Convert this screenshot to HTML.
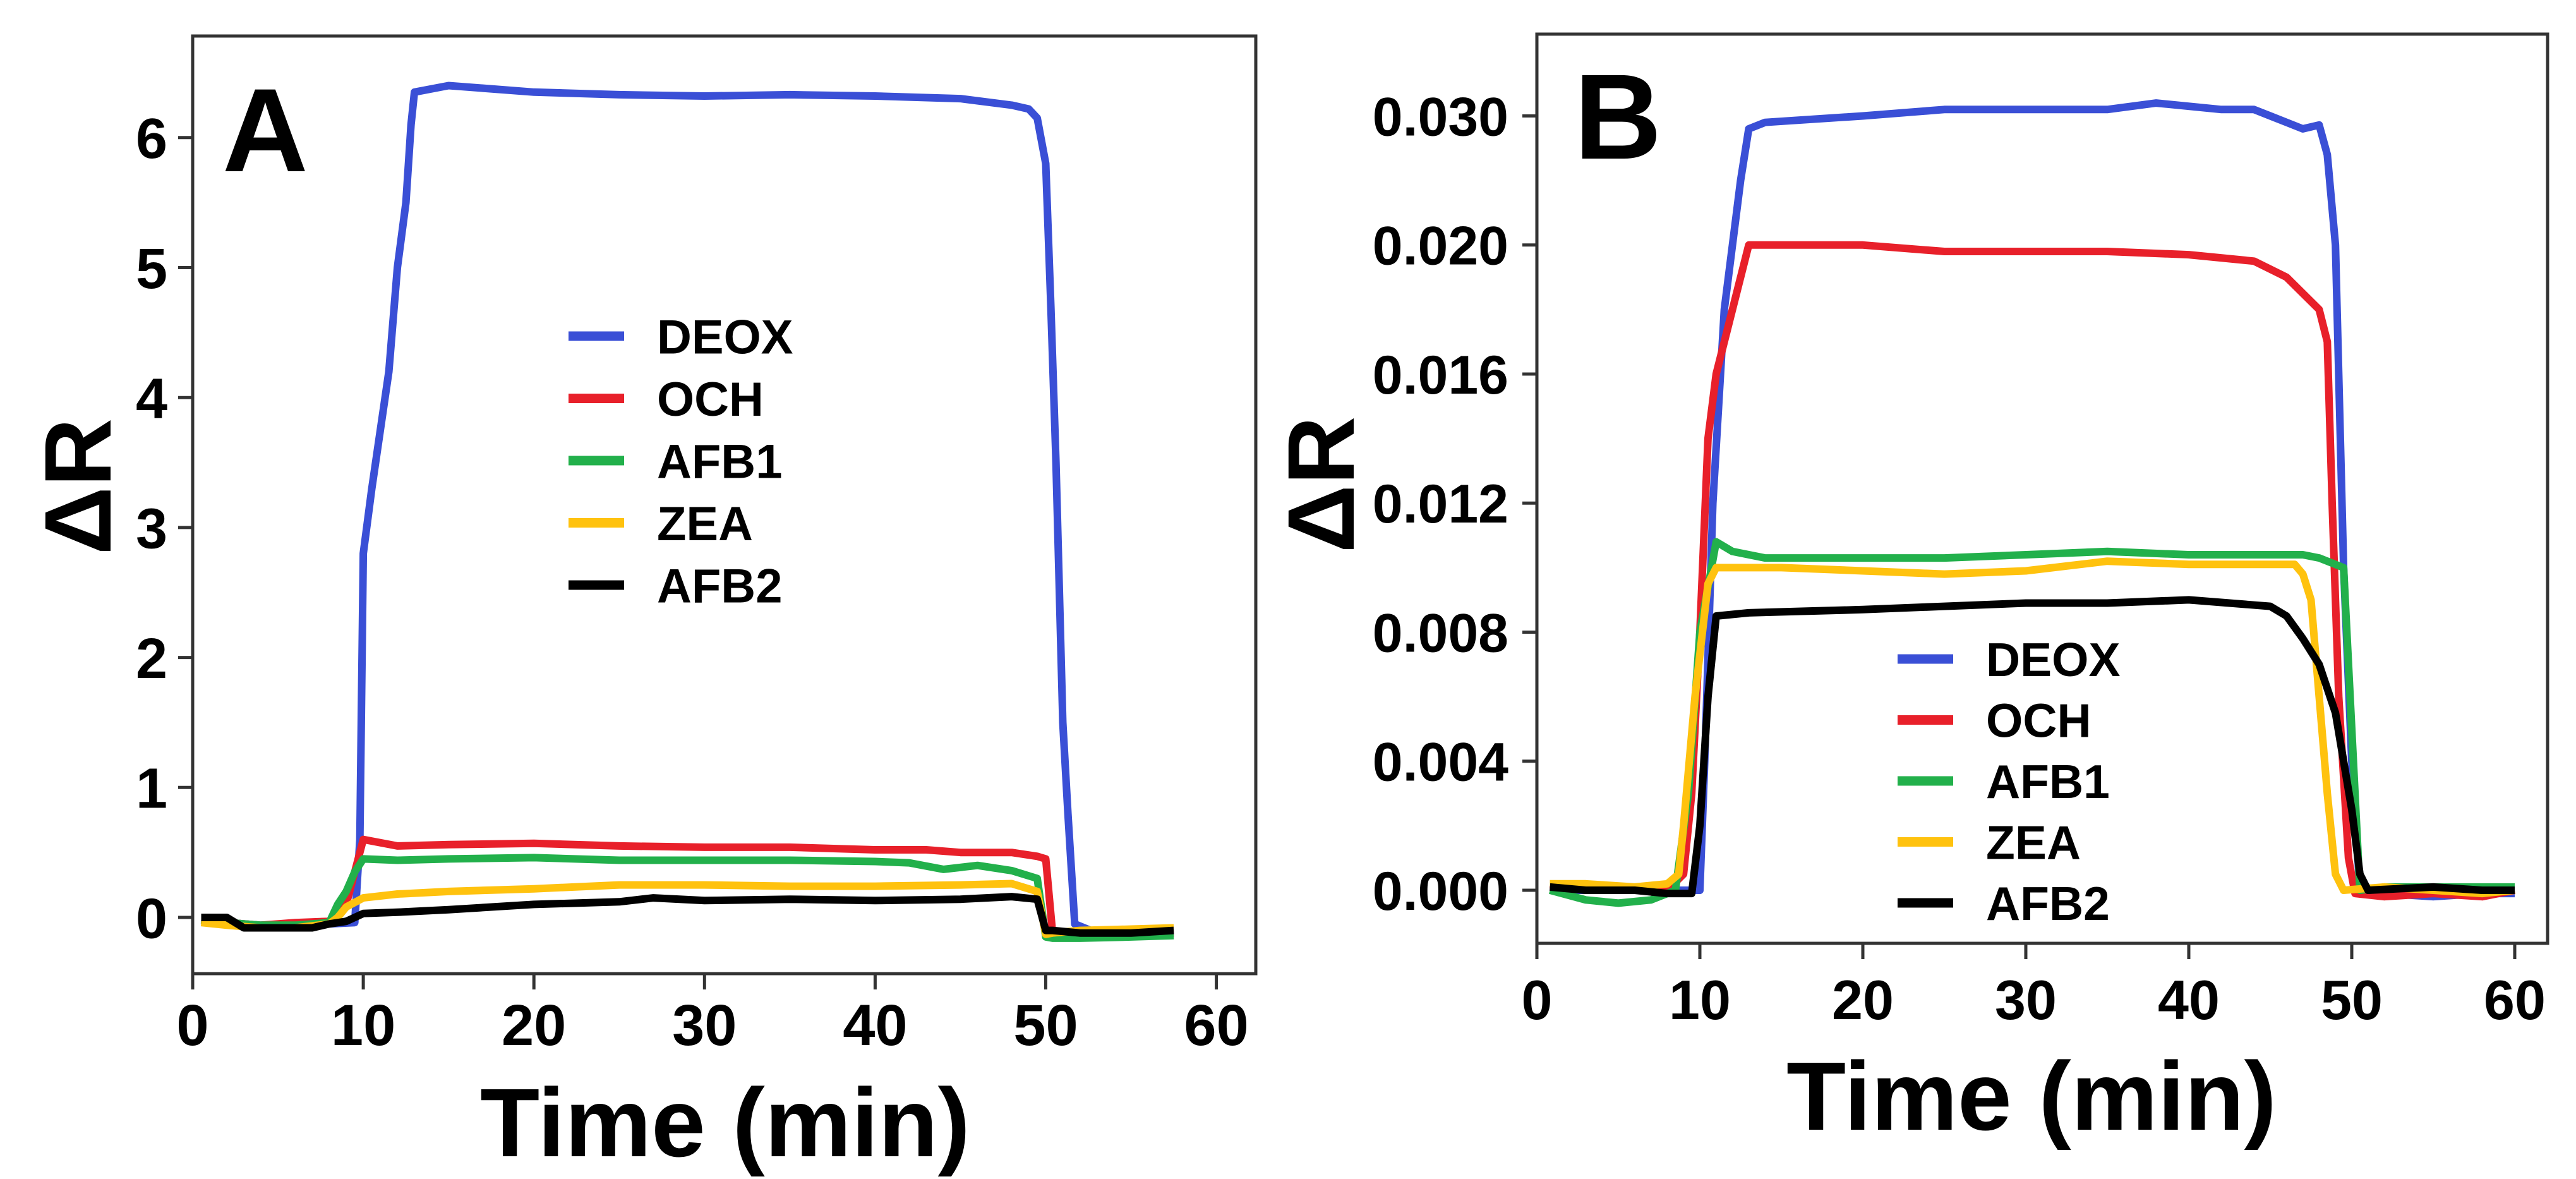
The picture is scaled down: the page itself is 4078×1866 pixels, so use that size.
<!DOCTYPE html>
<html><head><meta charset="utf-8"><style>
html,body{margin:0;padding:0;background:#fff;}
svg{display:block;font-family:"Liberation Sans",Arial,sans-serif;font-weight:bold;}
</style></head><body>
<svg id="fig" width="4078" height="1866" viewBox="0 0 4078 1866" xmlns="http://www.w3.org/2000/svg">
<g id="pa"></g>
<g id="pb"></g>
</svg>
<script>
const seriesNames = ["DEOX","OCH","AFB1","ZEA","AFB2"];
const seriesColors = ["#3a4fd6","#e8202a","#22b04b","#ffc20e","#000000"];
const xTicks = [0,10,20,30,40,50,60];
const aYTicks = [0,1,2,3,4,5,6];
const bYTicks = [0,0.004,0.008,0.012,0.016,0.020,0.030];
const bYTickLabels = ["0.000","0.004","0.008","0.012","0.016","0.020","0.030"];

// Panel A data
const aT = {
 DEOX:[0.5,2,4,6,8,9.5,9.8,10,10.5,11.5,12,12.5,12.8,13,15,20,25,30,35,40,45,48,49,49.5,50,50.3,50.6,51,51.3,51.7,53,55,57.5],
 OCH:[0.5,2,4,6,8,9,9.6,10,12,15,20,25,30,35,40,43,45,48,49.5,50,50.4,51,53,55,57.5],
 AFB1:[0.5,2,4,6,8,8.5,9,9.5,10,12,15,20,25,30,35,40,42,44,46,48,49.5,50,50.4,52,55,57.5],
 ZEA:[0.5,2,4,6,8,8.5,9,10,12,15,20,25,30,35,40,45,48,49.5,50,50.4,52,55,57.5],
 AFB2:[0.5,2,3,5,7,8,9,10,12,15,20,25,27,30,35,40,45,48,49.5,50,50.4,52,55,57.5]
};
const aV = {
 DEOX:[-0.02,-0.04,-0.06,-0.05,-0.05,-0.04,0.6,2.8,3.3,4.2,5.0,5.5,6.1,6.35,6.4,6.35,6.33,6.32,6.33,6.32,6.3,6.25,6.22,6.15,5.8,4.7,3.5,1.5,0.8,-0.05,-0.12,-0.12,-0.12],
 OCH:[-0.02,-0.04,-0.06,-0.04,-0.03,0.1,0.4,0.6,0.55,0.56,0.57,0.55,0.54,0.54,0.52,0.52,0.5,0.5,0.47,0.45,-0.12,-0.13,-0.14,-0.14,-0.12],
 AFB1:[-0.02,-0.04,-0.06,-0.06,-0.04,0.1,0.2,0.35,0.45,0.44,0.45,0.46,0.44,0.44,0.44,0.43,0.42,0.37,0.4,0.36,0.3,-0.15,-0.16,-0.16,-0.15,-0.14],
 ZEA:[-0.04,-0.06,-0.08,-0.08,-0.05,0.0,0.08,0.15,0.18,0.2,0.22,0.25,0.25,0.24,0.24,0.25,0.26,0.2,-0.13,-0.12,-0.1,-0.09,-0.08],
 AFB2:[0.0,0.0,-0.08,-0.08,-0.08,-0.05,-0.03,0.03,0.04,0.06,0.1,0.12,0.15,0.13,0.14,0.13,0.14,0.16,0.14,-0.1,-0.1,-0.12,-0.12,-0.1]
};
// Panel B data
const bT = {
 DEOX:[0.8,3,6,8,9.5,10,10.3,10.8,11.5,12,12.5,13,14,20,25,30,35,38,42,44,45,46,47,48,48.5,49,49.5,50,50.5,52,55,58,60],
 OCH:[0.8,3,6,8,9,9.5,10,10.5,11,12,13,15,20,25,30,35,40,44,46,48,48.5,48.8,49.2,49.8,50.2,52,55,58,60],
 AFB1:[0.8,3,5,7,8.5,9.3,10,11,12,14,20,25,30,35,40,45,47,48,49.5,50,50.5,52,55,58,60],
 ZEA:[0.8,3,6,8,8.7,9,9.7,10.5,11,15,20,25,30,35,40,45,46.5,47,47.5,48,48.5,49,49.5,52,55,58,60],
 AFB2:[0.8,3,6,8,9.5,10,10.5,11,13,20,25,30,35,40,45,46,47,48,49,50,50.5,51,55,58,60]
};
const bV = {
 DEOX:[0,0,0,0,0,0,0.004,0.012,0.018,0.020,0.025,0.029,0.0295,0.030,0.0305,0.0305,0.0305,0.031,0.0305,0.0305,0.030,0.0295,0.029,0.0293,0.027,0.020,0.010,0.004,0.0,-0.0001,-0.0002,-0.0001,-0.0001],
 OCH:[0,0.0001,0,0,0.0005,0.003,0.008,0.014,0.016,0.018,0.020,0.020,0.020,0.0198,0.0198,0.0198,0.0197,0.0195,0.019,0.018,0.017,0.012,0.006,0.001,-0.0001,-0.0002,-0.0001,-0.0002,0],
 AFB1:[0,-0.0003,-0.0004,-0.0003,0,0.003,0.008,0.0108,0.0105,0.0103,0.0103,0.0103,0.0104,0.0105,0.0104,0.0104,0.0104,0.0103,0.010,0.005,0.0,0.0001,0.0001,0.0001,0.0001],
 ZEA:[0.0002,0.0002,0.0001,0.0002,0.0005,0.002,0.006,0.0095,0.010,0.010,0.0099,0.0098,0.0099,0.0102,0.0101,0.0101,0.0101,0.0098,0.009,0.006,0.003,0.0005,0,0.0001,0,-0.0001,0],
 AFB2:[0.0001,0,0,-0.0001,-0.0001,0.002,0.006,0.0085,0.0086,0.0087,0.0088,0.0089,0.0089,0.009,0.0088,0.0085,0.0078,0.007,0.0055,0.0025,0.0005,0,0.0001,0,0]
};

const NS="http://www.w3.org/2000/svg";
function mk(tag,attrs,parent,text){const e=document.createElementNS(NS,tag);for(const k in attrs)e.setAttribute(k,attrs[k]);if(text!==undefined)e.textContent=text;parent.appendChild(e);return e;}

function drawPanel(g,cfg){
  const {L,R,T,B,x,y,yTicks,yLabels,yLabX,yFont,xLabY,xFont,ts,vs,letter,letterX,letterY,letterFont,
         dRX,dRY,titleX,titleY,legX,legY,legStep,legFont,lw} = cfg;
  const frame=mk('rect',{x:L,y:T,width:R-L,height:B-T,fill:'none',stroke:'#333',"stroke-width":5},g);
  
  
  xTicks.forEach(v=>{
    const t=mk('line',{x1:x(v),x2:x(v),y1:B,y2:B+25,stroke:'#333',"stroke-width":5},g);
    
    
    const lb=mk('text',{x:x(v),y:xLabY,"text-anchor":"middle","font-size":xFont},g,String(v));
    
    
  });
  yTicks.forEach((v,i)=>{
    const t=mk('line',{x1:L-23,x2:L,y1:y(v),y2:y(v),stroke:'#333',"stroke-width":5},g);
    
    
    const lb=mk('text',{x:yLabX,y:y(v)+yFont*0.36,"text-anchor":"end","font-size":yFont},g,yLabels[i]);
    
    
  });
  [0,1,2,3,4].forEach(i=>{
    const n=seriesNames[i];
    const d=ts[n].map((t,k)=>(k?'L':'M')+x(t).toFixed(1)+','+y(vs[n][k]).toFixed(1)).join('');
    const p=mk('path',{d:d,fill:'none',stroke:seriesColors[i],"stroke-width":lw,"stroke-linejoin":"round"},g);
    
    
  });
  seriesNames.forEach((n,i)=>{
    const ly=legY+i*legStep;
    const ln=mk('line',{x1:legX,x2:legX+88,y1:ly,y2:ly,stroke:seriesColors[i],"stroke-width":15},g);
    
    
    const tx=mk('text',{x:legX+140,y:ly+legFont*0.36,"font-size":legFont},g,n);
    
    
  });
  const le=mk('text',{x:letterX,y:letterY,"font-size":letterFont},g,letter);
  
  
  const yt=mk('text',{x:0,y:0,"font-size":150,"text-anchor":"middle",transform:`translate(${dRX},${dRY}) rotate(-90)`},g,'ΔR');
  
  
  const xt=mk('text',{x:titleX,y:titleY,"font-size":154,"text-anchor":"middle"},g,'Time (min)');
  
  
}

const ax = v => 305 + v*27.01;
const ay = v => 1452 - v*205.7;
drawPanel(document.getElementById('pa'),{L:305,R:1988,T:57,B:1541,x:ax,y:ay,yTicks:aYTicks,yLabels:aYTicks.map(String),
  yLabX:265,yFont:90,xLabY:1654,xFont:92,ts:aT,vs:aV,letter:'A',letterX:352,letterY:271,letterFont:188,
  dRX:175,dRY:770,titleX:1148,titleY:1830,legX:900,legY:532,legStep:98.5,legFont:76,lw:12});

const bx = v => 2433 + v*25.8;
const by = v => v<=0.020 ? 1409 - v*(204.25/0.004) : 1409 - 5*204.25 - (v-0.020)*(204.25/0.010);
drawPanel(document.getElementById('pb'),{L:2433,R:4033,T:54,B:1493,x:bx,y:by,yTicks:bYTicks,yLabels:bYTickLabels,
  yLabX:2388,yFont:86,xLabY:1613,xFont:88,ts:bT,vs:bV,letter:'B',letterX:2492,letterY:251,letterFont:192,
  dRX:2143,dRY:767,titleX:3216,titleY:1788,legX:3004,legY:1043,legStep:96.5,legFont:75,lw:12});
</script>
</body></html>
